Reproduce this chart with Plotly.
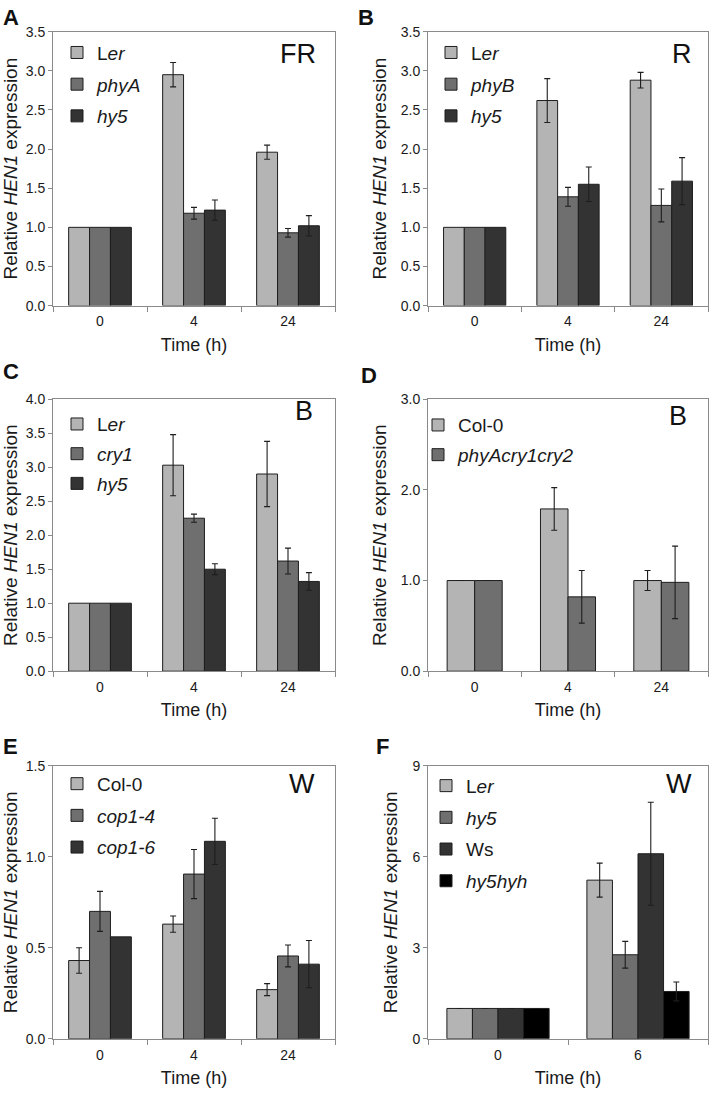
import plotly.graph_objects as go

# ---------------- data ----------------
times3 = ["0", "4", "24"]
times2 = ["0", "6"]

# A (FR)
A_Ler = [1.0, 2.95, 1.96];  A_Ler_err = [None, 0.155, 0.09]
A_phyA = [1.0, 1.18, 0.93]; A_phyA_err = [None, 0.075, 0.055]
A_hy5 = [1.0, 1.22, 1.02];  A_hy5_err = [None, 0.13, 0.13]

# B (R)
B_Ler = [1.0, 2.62, 2.88];  B_Ler_err = [None, 0.28, 0.10]
B_phyB = [1.0, 1.39, 1.28]; B_phyB_err = [None, 0.12, 0.21]
B_hy5 = [1.0, 1.55, 1.59];  B_hy5_err = [None, 0.22, 0.30]

# C (B)
C_Ler = [1.0, 3.03, 2.90];  C_Ler_err = [None, 0.45, 0.48]
C_cry1 = [1.0, 2.25, 1.62]; C_cry1_err = [None, 0.06, 0.19]
C_hy5 = [1.0, 1.50, 1.32];  C_hy5_err = [None, 0.08, 0.13]

# D (B)
D_Col = [1.0, 1.79, 1.00];  D_Col_err = [0.0, 0.235, 0.11]
D_pcc = [1.0, 0.82, 0.98];  D_pcc_err = [0.0, 0.29, 0.40]

# E (W)
E_Col = [0.43, 0.63, 0.27];     E_Col_err = [0.07, 0.045, 0.033]
E_cop14 = [0.70, 0.905, 0.455]; E_cop14_err = [0.11, 0.135, 0.06]
E_cop16 = [0.56, 1.085, 0.41];  E_cop16_err = [None, 0.127, 0.13]

# F (W)
F_Ler = [1.0, 5.23];    F_Ler_err = [0.0, 0.56]
F_hy5 = [1.0, 2.77];    F_hy5_err = [0.0, 0.44]
F_Ws = [1.0, 6.10];     F_Ws_err = [0.0, 1.70]
F_hy5hyh = [1.0, 1.56]; F_hy5hyh_err = [0.0, 0.31]

# ---------------- style ----------------
LIGHT, MID, DARK, BLACK = "#b4b4b4", "#6f6f6f", "#333333", "#000000"
FONT = "Liberation Sans"
AXC = "#8a8a8a"
W, H = 711, 1099

def err_arr(e):
    # missing error -> "NaN" so plotly.js skips that error bar entirely
    return ["NaN" if v is None else v for v in e]

panels = [
    (1, times3, [("L<i>er</i>", A_Ler, A_Ler_err, LIGHT), ("<i>phyA</i>", A_phyA, A_phyA_err, MID),
                 ("<i>hy5</i>", A_hy5, A_hy5_err, DARK)], 0.667, "L", 1, [0, 3.5], 0.5, ".1f", "FR"),
    (2, times3, [("L<i>er</i>", B_Ler, B_Ler_err, LIGHT), ("<i>phyB</i>", B_phyB, B_phyB_err, MID),
                 ("<i>hy5</i>", B_hy5, B_hy5_err, DARK)], 0.667, "R", 1, [0, 3.5], 0.5, ".1f", "R"),
    (3, times3, [("L<i>er</i>", C_Ler, C_Ler_err, LIGHT), ("<i>cry1</i>", C_cry1, C_cry1_err, MID),
                 ("<i>hy5</i>", C_hy5, C_hy5_err, DARK)], 0.667, "L", 2, [0, 4.0], 0.5, ".1f", "B"),
    (4, times3, [("Col-0", D_Col, D_Col_err, LIGHT), ("<i>phyAcry1cry2</i>", D_pcc, D_pcc_err, MID)],
     0.59, "R", 2, [0, 3.0], 1.0, ".1f", "B"),
    (5, times3, [("Col-0", E_Col, E_Col_err, LIGHT), ("<i>cop1-4</i>", E_cop14, E_cop14_err, MID),
                 ("<i>cop1-6</i>", E_cop16, E_cop16_err, DARK)], 0.667, "L", 3, [0, 1.5], 0.5, ".1f", "W"),
    (6, times2, [("L<i>er</i>", F_Ler, F_Ler_err, LIGHT), ("<i>hy5</i>", F_hy5, F_hy5_err, MID),
                 ("Ws", F_Ws, F_Ws_err, DARK), ("<i>hy5hyh</i>", F_hy5hyh, F_hy5hyh_err, BLACK)],
     0.73, "R", 3, [0, 9], 3, "d", "W"),
]

xdom = {"L": [53 / W, 335 / W], "R": [428 / W, 708 / W]}
ydom = {1: [1 - 302 / H, 1 - 24 / H], 2: [1 - 673 / H, 1 - 397 / H], 3: [1 - 1046 / H, 1 - 769 / H]}
# legend top-left (px) and gap between items
leg_pos = {1: (57, 26, 4), 2: (431, 26, 4), 3: (57, 403, 2), 4: (418, 404, 2), 5: (57, 768, 4), 6: (426, 770, 4)}
cond_pos = {1: (318, 47), 2: (694, 47), 3: (315, 409), 4: (689, 414), 5: (317, 787), 6: (694, 787)}
letters = {1: ("A", 1, 10), 2: ("B", 356, 10), 3: ("C", 1, 369), 4: ("D", 359, 373), 5: ("E", 1, 749), 6: ("F", 374, 749)}

fig = go.Figure()
layout = dict(
    width=W, height=H, margin=dict(l=0, r=0, t=0, b=0),
    paper_bgcolor="white", plot_bgcolor="white",
    barmode="overlay", font=dict(family=FONT, color="#1a1a1a"),
    annotations=[],
)

for idx, xcats, series, gw, col, row, yr, dt, fmt, cond in panels:
    sfx = "" if idx == 1 else str(idx)
    legname = "legend" if idx == 1 else f"legend{idx}"
    n = len(series)
    bw = gw / n
    for k, (name, yv, ev, colr) in enumerate(series):
        fig.add_trace(go.Bar(
            x=xcats, y=yv, name=name,
            xaxis="x" + sfx, yaxis="y" + sfx,
            width=bw, offset=-gw / 2 + k * bw,
            marker=dict(color=colr, line=dict(color="#1e1e1e", width=1)),
            error_y=dict(type="data", array=err_arr(ev), visible=True,
                         color="#1e1e1e", thickness=1.1, width=3),
            legend=legname, legendgroup=f"{idx}-{k}", showlegend=True,
        ))
    lx, ly, gap = leg_pos[idx]
    layout[legname] = dict(
        x=lx / W, y=1 - ly / H, xanchor="left", yanchor="top",
        bgcolor="rgba(0,0,0,0)", font=dict(family=FONT, size=19, color="#1a1a1a"),
        tracegroupgap=gap, itemclick=False, itemdoubleclick=False,
    )
    layout["xaxis" + sfx] = dict(
        domain=xdom[col], anchor="y" + sfx, type="category",
        range=[-0.5, len(xcats) - 0.5],
        showline=True, linecolor=AXC, linewidth=1, mirror=True,
        ticks="outside", tickson="boundaries", ticklen=5, tickcolor=AXC,
        ticklabelstandoff=3,
        tickfont=dict(family=FONT, size=14, color="#1a1a1a"),
        showgrid=False, zeroline=False,
        title=dict(text="Time (h)", font=dict(family=FONT, size=18), standoff=9),
    )
    layout["yaxis" + sfx] = dict(
        domain=ydom[row], anchor="x" + sfx, range=yr, dtick=dt, tick0=0,
        tickformat=fmt,
        showline=True, linecolor=AXC, linewidth=1, mirror=True,
        ticks="outside", ticklen=4, tickcolor=AXC,
        tickfont=dict(family=FONT, size=14, color="#1a1a1a"),
        showgrid=False, zeroline=False,
        title=dict(text="Relative <i>HEN1</i> expression", font=dict(family=FONT, size=19), standoff=9),
    )
    cx, cy = cond_pos[idx]
    layout["annotations"].append(dict(
        text=cond, x=cx / W, y=1 - cy / H, xref="paper", yref="paper",
        xanchor="right", yanchor="middle", showarrow=False,
        font=dict(family=FONT, size=27, color="#111111")))
    lt, ltx, lty = letters[idx]
    layout["annotations"].append(dict(
        text=f"<b>{lt}</b>", x=ltx / W, y=1 - lty / H, xref="paper", yref="paper",
        xanchor="left", yanchor="middle", showarrow=False,
        font=dict(family=FONT, size=22, color="#111111")))

fig.update_layout(**layout)
fig.write_html(
    "out.html",
    config={"displayModeBar": False},
    post_script="document.body.style.margin='0';document.body.style.overflow='hidden';",
)
